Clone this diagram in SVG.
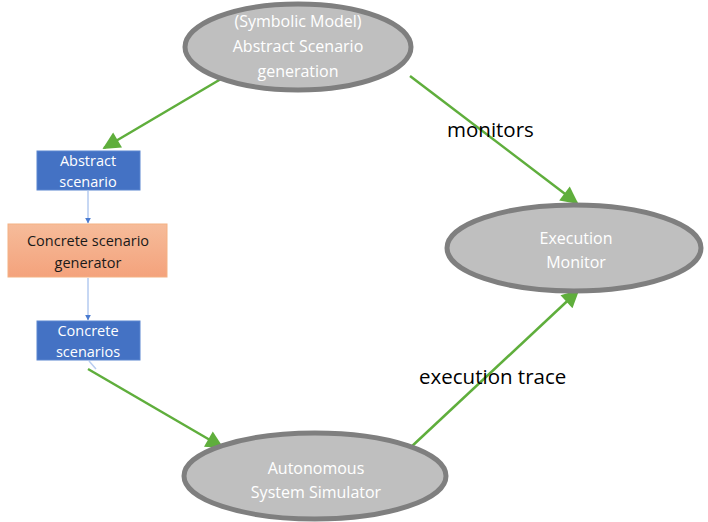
<svg xmlns="http://www.w3.org/2000/svg" width="708" height="522" viewBox="0 0 708 522">
  <defs>
    <marker id="greenHead" viewBox="0 0 10 10" refX="9" refY="5" markerWidth="8" markerHeight="7" markerUnits="strokeWidth" orient="auto">
      <path d="M0,0 L10,5 L0,10 z" fill="#5fae3c"/>
    </marker>
    <marker id="blueHead" viewBox="0 0 10 10" refX="9" refY="5" markerWidth="6" markerHeight="6" markerUnits="strokeWidth" orient="auto">
      <path d="M0,0 L10,5 L0,10 z" fill="#4a7bd0"/>
    </marker>
    <linearGradient id="orangeFill" x1="0" y1="0" x2="0" y2="1">
      <stop offset="0" stop-color="#f6bc9a"/>
      <stop offset="1" stop-color="#f4a27c"/>
    </linearGradient>
  </defs>
  <style>
    .ell { fill: #bfbfbf; stroke: #7f7f7f; stroke-width: 5; }
    .ellText { font-family: "Open Sans", "Liberation Sans", sans-serif; font-size: 16px; fill: #ffffff; text-anchor: middle; }
    .box { fill: #4472c4; stroke: #5b86d0; stroke-width: 1; }
    .boxText { font-family: "Open Sans", "Liberation Sans", sans-serif; font-size: 14.5px; fill: #ffffff; text-anchor: middle; }
    .genText { font-family: "Open Sans", "Liberation Sans", sans-serif; font-size: 14.5px; fill: #1a1a1a; text-anchor: middle; }
    .green { stroke: #5fae3c; stroke-width: 2.5; fill: none; marker-end: url(#greenHead); }
    .blue { stroke: #8fb0e8; stroke-width: 1; fill: none; marker-end: url(#blueHead); }
    .label { font-family: "Open Sans", "Liberation Sans", sans-serif; font-size: 20.5px; fill: #000000; }
  </style>

  <g id="connectors">
    <line class="blue" x1="88" y1="191" x2="88" y2="223"/>
    <line class="blue" x1="88" y1="278" x2="88" y2="320"/>
    <line x1="89" y1="361" x2="96" y2="369" stroke="#b8cdf0" stroke-width="1.5"/>
    <line class="green" x1="226" y1="76" x2="104" y2="148"/>
    <line class="green" x1="410" y1="76" x2="577" y2="203"/>
    <line class="green" x1="88" y1="369" x2="222" y2="447"/>
    <line class="green" x1="410" y1="448" x2="578" y2="291"/>
    <text class="label" x="447" y="137">monitors</text>
    <text class="label" x="419" y="384">execution trace</text>
  </g>

  <g id="abstract-generation">
    <ellipse class="ell" cx="298" cy="47" rx="113" ry="43"/>
    <text class="ellText" x="298" y="27">(Symbolic Model)</text>
    <text class="ellText" x="298" y="52">Abstract Scenario</text>
    <text class="ellText" x="298" y="77">generation</text>
  </g>

  <g id="execution-monitor">
    <ellipse class="ell" cx="574" cy="248" rx="127" ry="43"/>
    <text class="ellText" x="576" y="244">Execution</text>
    <text class="ellText" x="576" y="268">Monitor</text>
  </g>

  <g id="system-simulator">
    <ellipse class="ell" cx="315" cy="476" rx="131" ry="43"/>
    <text class="ellText" x="316" y="474">Autonomous</text>
    <text class="ellText" x="316" y="498">System Simulator</text>
  </g>

  <g id="abstract-scenario">
    <rect class="box" x="37" y="151" width="103" height="39"/>
    <text class="boxText" x="88" y="166">Abstract</text>
    <text class="boxText" x="88" y="187">scenario</text>
  </g>

  <g id="scenario-generator">
    <rect x="8" y="224" width="159" height="53" fill="url(#orangeFill)" stroke="#f4b183" stroke-width="1"/>
    <text class="genText" x="88" y="246">Concrete scenario</text>
    <text class="genText" x="88" y="268">generator</text>
  </g>

  <g id="concrete-scenarios">
    <rect class="box" x="37" y="321" width="103" height="39"/>
    <text class="boxText" x="88" y="336">Concrete</text>
    <text class="boxText" x="88" y="357">scenarios</text>
  </g>
</svg>
